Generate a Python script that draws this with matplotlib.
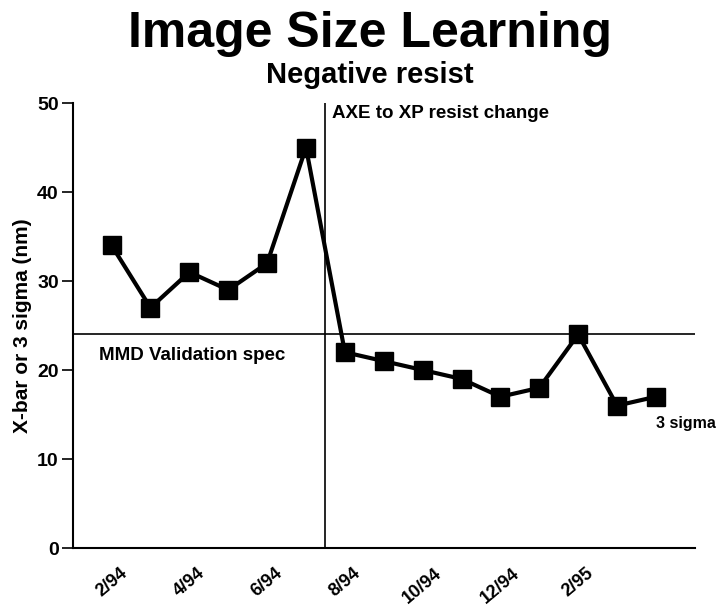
import matplotlib
matplotlib.use("Agg")
import matplotlib.pyplot as plt

values = [34, 27, 31, 29, 32, 45, 22, 21, 20, 19, 17, 18, 24, 16, 17]
tick_labels = ["2/94", "4/94", "6/94", "8/94", "10/94", "12/94", "2/95"]
tick_idx = [0, 2, 4, 6, 8, 10, 12]
spec_value = 24
change_pos = 5.5
y_ticks = [0, 10, 20, 30, 40, 50]

fam = ['Liberation Sans', 'DejaVu Sans']
plt.rcParams['font.family'] = fam
plt.rcParams['font.weight'] = 'bold'

fig = plt.figure(figsize=(7.2, 6.1), dpi=100)
ax = fig.add_axes([0.101, 0.1016, 0.864, 0.7295])

x = list(range(len(values)))
ax.plot(x, values, color='black', lw=3, marker='s', ms=13, mfc='black', mec='black')
ax.axhline(spec_value, color='black', lw=1.2)
ax.axvline(change_pos, color='black', lw=1.2)

ax.set_xlim(-1, 15)
ax.set_ylim(0, 50)
ax.set_yticks(y_ticks)
ax.set_yticklabels([str(v) for v in y_ticks], fontsize=14, fontweight='bold')
ax.set_xticks(tick_idx)
ax.set_xticklabels(tick_labels, rotation=40, ha='center', fontsize=13, fontweight='bold')
ax.tick_params(axis='x', length=0, pad=12)
ax.tick_params(axis='y', length=8, width=1.2, pad=2)
for s in ['top', 'right']:
    ax.spines[s].set_visible(False)
for s in ['left', 'bottom']:
    ax.spines[s].set_linewidth(1.5)

ax.set_ylabel("X-bar or 3 sigma (nm)", fontsize=15, fontweight='bold', labelpad=4)

fig.text(0.514, 0.945, "Image Size Learning", ha='center', va='center', fontsize=36, fontweight='bold')
fig.text(0.514, 0.877, "Negative resist", ha='center', va='center', fontsize=21, fontweight='bold')

ax.text(5.68, 48.8, "AXE to XP resist change", ha='left', va='center', fontsize=13.5, fontweight='bold')
ax.text(-0.33, 21.6, "MMD Validation spec", ha='left', va='center', fontsize=13.5, fontweight='bold')
ax.text(14.0, 14.0, "3 sigma", ha='left', va='center', fontsize=11.5, fontweight='bold')

fig.savefig("out.png", dpi=100)
